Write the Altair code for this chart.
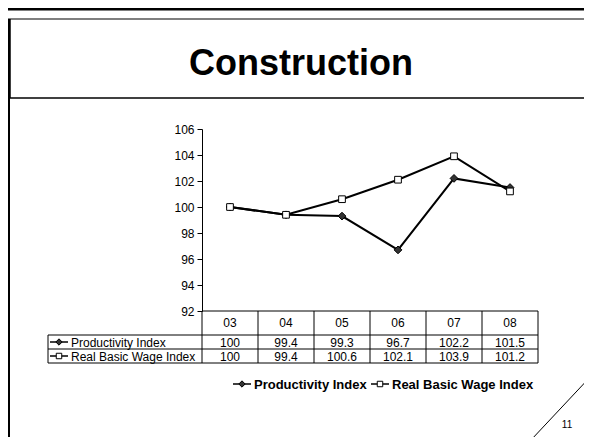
import altair as alt
import pandas as pd

years = ["03", "04", "05", "06", "07", "08"]
productivity = [100, 99.4, 99.3, 96.7, 102.2, 101.5]
wage = [100, 99.4, 100.6, 102.1, 103.9, 101.2]
series_names = ["Productivity Index", "Real Basic Wage Index"]
y_ticks = [92, 94, 96, 98, 100, 102, 104, 106]
title_text = "Construction"
page_number = "11"

FONT = "Liberation Sans"
W, H = 336, 182

rows = []
for s, vals in zip(series_names, [productivity, wage]):
    for yr, v in zip(years, vals):
        rows.append({"year": yr, "series": s, "value": v, "label": f"{v:g}"})
df = pd.DataFrame(rows)
df_prod = df[df.series == series_names[0]]
df_wage = df[df.series == series_names[1]]
df_years = pd.DataFrame({"year": years})

xscale = alt.Scale(type="band", domain=years, paddingInner=0, paddingOuter=0)
xenc = alt.X("year:N", scale=xscale, axis=None)
yenc = alt.Y("value:Q",
             scale=alt.Scale(domain=[92, 106], nice=False, zero=False),
             axis=alt.Axis(values=y_ticks, grid=False, title=None,
                           domainColor="black", tickColor="black",
                           labelColor="black", labelFont=FONT, labelFontSize=12,
                           tickSize=5, labelPadding=3, domainWidth=1, tickWidth=1))

one = pd.DataFrame({"a": [0]})


def rule(x, y, x2=None, y2=None, width=1, color="black"):
    enc = {"x": alt.value(x), "y": alt.value(y)}
    if x2 is not None:
        enc["x2"] = alt.value(x2)
    if y2 is not None:
        enc["y2"] = alt.value(y2)
    return alt.Chart(one).mark_rule(color=color, strokeWidth=width).encode(**enc)


def text(t, x, y, size=12, bold=False, align="left", baseline="middle"):
    return alt.Chart(pd.DataFrame({"t": [t]})).mark_text(
        font=FONT, fontSize=size, fontWeight="bold" if bold else "normal",
        align=align, baseline=baseline, color="black").encode(
        text="t:N", x=alt.value(x), y=alt.value(y))


def marker(shape, x, y, fill, size):
    return alt.Chart(one).mark_point(shape=shape, filled=True, fill=fill,
                                     stroke="black", strokeWidth=1, size=size,
                                     opacity=1).encode(x=alt.value(x), y=alt.value(y))


layers = []

# frame
layers += [
    rule(-194, -120, 600, None, width=3),
    rule(-194, -110, 600, None, width=1.2),
    rule(-193, -110, None, -31, width=3.5),
    rule(-193, -31, None, 320, width=2),
    rule(-194, -31, 600, None, width=1.5),
]

# title
layers.append(text(title_text, 99, -54, size=36, bold=True, align="center", baseline="alphabetic"))

# lines and points
lines = alt.Chart(df).mark_line(color="black", strokeWidth=2).encode(
    x=xenc, y=yenc, detail="series:N")
pts_prod = alt.Chart(df_prod).mark_point(shape="diamond", filled=True, fill="#333333",
                                         stroke="black", strokeWidth=1, size=60,
                                         opacity=1).encode(x=xenc, y=yenc)
pts_wage = alt.Chart(df_wage).mark_point(shape="square", filled=True, fill="white",
                                         stroke="black", strokeWidth=1, size=45,
                                         opacity=1).encode(x=xenc, y=yenc)
layers += [lines, pts_prod, pts_wage]

# table
r0, r1, r2, r3 = 182, 206, 220, 234
layers += [
    rule(0, r0, W, None),
    rule(-154, r1, W, None),
    rule(-154, r2, W, None),
    rule(-154, r3, W, None),
    rule(-154, r1, None, r3),
    rule(W, r0, None, r3),
]
vlines = alt.Chart(df_years).mark_rule(color="black", strokeWidth=1).encode(
    x=alt.X("year:N", scale=xscale, axis=None, bandPosition=0),
    y=alt.value(r0), y2=alt.value(r3))
layers.append(vlines)

hdr = alt.Chart(df_years).mark_text(font=FONT, fontSize=12, color="black",
                                     baseline="middle").encode(
    x=xenc, y=alt.value((r0 + r1) / 2), text="year:N")
row_prod = alt.Chart(df_prod).mark_text(font=FONT, fontSize=12, color="black",
                                         baseline="middle").encode(
    x=xenc, y=alt.value((r1 + r2) / 2 + 0.5), text="label:N")
row_wage = alt.Chart(df_wage).mark_text(font=FONT, fontSize=12, color="black",
                                         baseline="middle").encode(
    x=xenc, y=alt.value((r2 + r3) / 2 + 0.5), text="label:N")
layers += [hdr, row_prod, row_wage]

# table row keys
for i, (shape, fill, size) in enumerate([("diamond", "#333333", 40), ("square", "white", 30)]):
    yy = (r1 + r2) / 2 if i == 0 else (r2 + r3) / 2
    layers.append(rule(-152, yy, -134, None, width=1.5))
    layers.append(marker(shape, -143, yy, fill, size))
    layers.append(text(series_names[i], -131, yy + 0.5, size=12))

# legend
ly = 255
layers.append(rule(31, ly, 49, None, width=1.5))
layers.append(marker("diamond", 40, ly, "#333333", 40))
layers.append(text(series_names[0], 52, ly + 0.5, size=13, bold=True))
layers.append(rule(169, ly, 187, None, width=1.5))
layers.append(marker("square", 178, ly, "white", 30))
layers.append(text(series_names[1], 190, ly + 0.5, size=13, bold=True))

# page corner
layers.append(rule(329, 311, 390, 246, width=1))
layers.append(text(page_number, 365, 296, size=10, align="center"))

chart = alt.layer(*layers).properties(
    width=W, height=H,
    autosize=alt.AutoSizeParams(type="none"),
    padding={"left": 194, "top": 121, "right": 46, "bottom": 126},
    background="white",
).configure_view(stroke=None)

chart.save("out.html", embed_options={"renderer": "svg", "actions": False})
